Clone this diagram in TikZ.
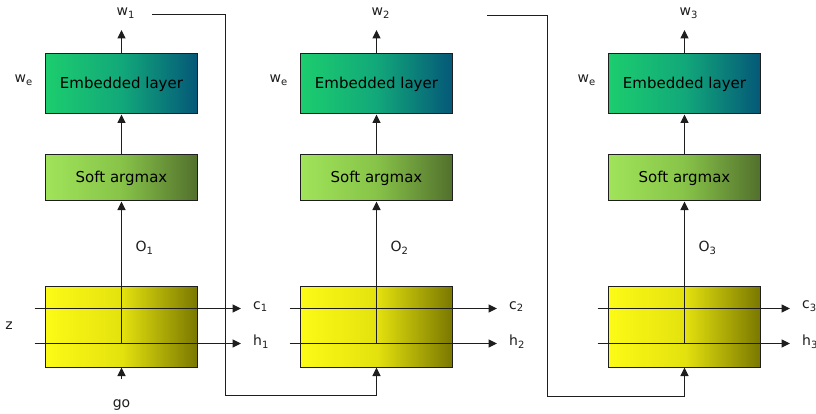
\documentclass[tikz,border=0pt]{standalone}
\usepackage{fontspec}
\setmainfont{DejaVu Sans}
\usetikzlibrary{arrows.meta}
\definecolor{embL}{RGB}{28,205,110}
\definecolor{embM}{RGB}{18,168,122}
\definecolor{embR}{RGB}{5,88,120}
\definecolor{softL}{RGB}{160,228,90}
\definecolor{softM}{RGB}{135,195,72}
\definecolor{softR}{RGB}{82,112,45}
\definecolor{yelL}{RGB}{252,250,22}
\definecolor{yelM}{RGB}{228,226,14}
\definecolor{yelR}{RGB}{122,120,0}
\definecolor{ink}{RGB}{30,30,30}
\newcommand{\sbs}[1]{\raisebox{-2.8pt}{\fontsize{10}{10}\selectfont #1}}
\begin{document}
\begin{tikzpicture}[x=1pt,y=-1pt,
  box/.style={draw=ink, line width=1pt, minimum width=152pt, inner sep=0pt, font=\fontsize{15}{17}\selectfont},
  emb/.style={box, minimum height=60pt, left color=embL, right color=embR, middle color=embM},
  soft/.style={box, minimum height=46pt, left color=softL, right color=softR, middle color=softM},
  yel/.style={box, minimum height=81pt, left color=yelL, right color=yelR, middle color=yelM},
  lbl/.style={font=\fontsize{14}{16}\selectfont, inner sep=0pt, text=ink},
  arr/.style={draw=ink, line width=1pt, -{Triangle[length=8.5pt,width=8pt]}}]
\fill[white] (0,0) rectangle (816,414);
\useasboundingbox (0,0) rectangle (816,414);
\foreach \i/\x/\r in {1/121.5/241, 2/376.5/497, 3/684.5/790}{
  \node[emb] (E\i) at (\x,84) {Embedded layer};
  \node[soft] (S\i) at (\x,178) {Soft argmax};
  \node[yel] (Y\i) at (\x,326.5) {};
  \node[lbl] (W\i) at (\x+4,13) {w\sbs{\i}};
  \node[lbl,anchor=west] (O\i) at (\x+14,247.5) {O\sbs{\i}};
  \node[lbl] (we\i) at (\x-98,80) {w\sbs{e}};
  \coordinate (cl\i) at (\x-87,308.5);
  \coordinate (hl\i) at (\x-87,343.5);
  \coordinate (cr\i) at (\r,308.5);
  \coordinate (hr\i) at (\r,343.5);
  \coordinate (hm\i) at (\x,343.5);
  \coordinate (wt\i) at (\x,30);
  \node[lbl,anchor=west] (C\i) at (\r+12,306.5) {c\sbs{\i}};
  \node[lbl,anchor=west] (H\i) at (\r+12,342) {h\sbs{\i}};
  \draw[arr] (E\i.north) -- (wt\i);
  \draw[arr] (S\i.north) -- (E\i.south);
  \draw[arr] (hm\i) -- (S\i.south);
  \draw[arr] (cl\i) -- (cr\i);
  \draw[arr] (hl\i) -- (hr\i);
}
\node[lbl] (z) at (9,326) {z};
\node[lbl] (go) at (121.5,405) {go};
\coordinate (gt) at (121.5,379);
\draw[arr] (gt) -- (Y1.south);
\coordinate (f1a) at (152,14.5);
\coordinate (f1c) at (225.5,395.5);
\draw[arr] (f1a) -| (f1c) -| (Y2.south);
\coordinate (f2a) at (487,15.5);
\coordinate (f2c) at (547.5,396.5);
\draw[arr] (f2a) -| (f2c) -| (Y3.south);
\end{tikzpicture}
\end{document}
